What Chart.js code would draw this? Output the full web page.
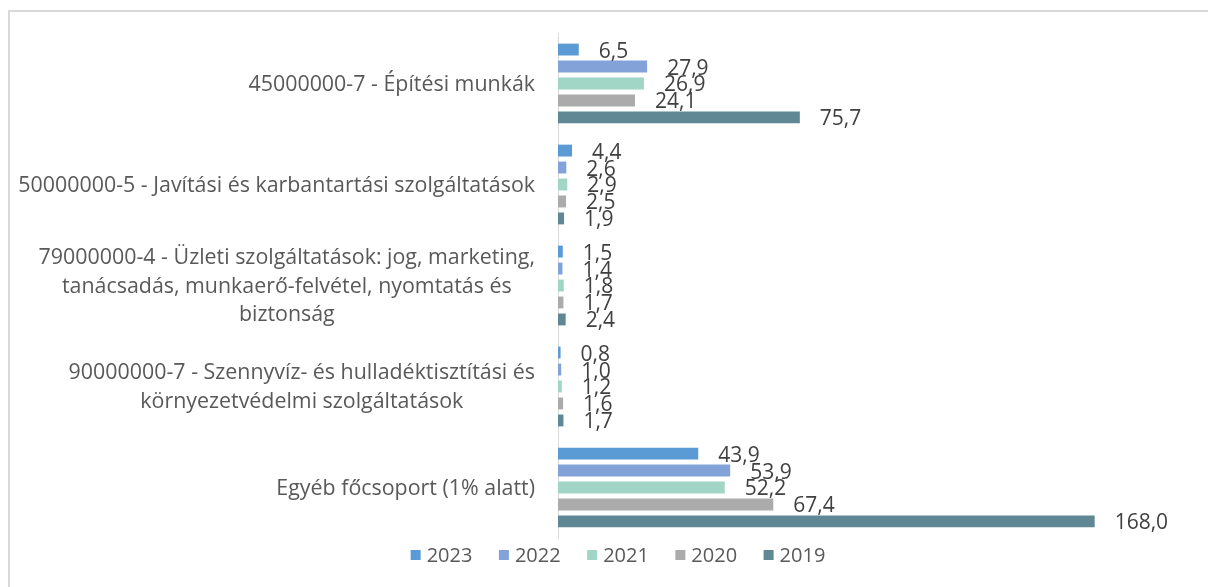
<!DOCTYPE html>
<html lang="hu">

<head>
  <meta charset="utf-8">
  <style>
    body {
      margin: 0;
      overflow: hidden;
      background: #ffffff;
    }

    .frame {
      position: absolute;
      left: 8px;
      top: 10px;
      width: 1300px;
      height: 700px;
      border: 2px solid #d9d9d9;
    }

    .chart-box {
      position: absolute;
      left: 0;
      top: 0;
      width: 1208px;
      height: 587px;
    }
  </style>
</head>

<body>
  <div class="frame"></div>
  <div class="chart-box">
    <canvas id="cpvChart"></canvas>
  </div>

  <script src="https://cdn.jsdelivr.net/npm/chart.js"></script>
  <script>
    // CPV főcsoportok (sortördeléssel, ahogy a tengelyen megjelennek)
    const categories = [
      ['45000000-7 - Építési munkák'],
      ['50000000-5 - Javítási és karbantartási szolgáltatások'],
      ['79000000-4 - Üzleti szolgáltatások: jog, marketing,', 'tanácsadás, munkaerő-felvétel, nyomtatás és', 'biztonság'],
      ['90000000-7 - Szennyvíz- és hulladéktisztítási és', 'környezetvédelmi szolgáltatások'],
      ['Egyéb főcsoport (1% alatt)']
    ];

    const years = ['2023', '2022', '2021', '2020', '2019'];

    const values2023 = [6.5, 4.4, 1.5, 0.8, 43.9];
    const values2022 = [27.9, 2.6, 1.4, 1.0, 53.9];
    const values2021 = [26.9, 2.9, 1.8, 1.2, 52.2];
    const values2020 = [24.1, 2.5, 1.7, 1.6, 67.4];
    const values2019 = [75.7, 1.9, 2.4, 1.7, 168.0];

    const COLORS = ['#5b9bd5', '#83a2d8', '#a1d5c6', '#ababab', '#5f8794'];

    const FONT = '"Open Sans", "Liberation Sans", sans-serif';

    /* ------------------------------------------------ */

    // kategórianevek a tengely bal oldalán, több sor esetén középre zárva
    const categoryLabels = {
      id: 'categoryLabels',
      afterDraw(chart) {
        const ctx = chart.ctx;
        const yScale = chart.scales.y;
        const right = chart.chartArea.left - 23;
        const lineH = 28.5;
        ctx.save();
        ctx.font = '21.4px ' + FONT;
        ctx.fillStyle = '#595959';
        ctx.textAlign = 'center';
        ctx.textBaseline = 'middle';
        categories.forEach((lines, i) => {
          const w = Math.max(...lines.map(l => ctx.measureText(l).width));
          const cx = right - w / 2;
          const y0 = yScale.getPixelForValue(i) - (lines.length - 1) * lineH / 2;
          lines.forEach((l, k) => ctx.fillText(l, cx, y0 + k * lineH + 1));
        });
        ctx.restore();
      }
    };

    // értékcímkék a sávok végén, tizedesvesszővel
    const valueLabels = {
      id: 'valueLabels',
      afterDatasetsDraw(chart) {
        const ctx = chart.ctx;
        ctx.save();
        ctx.font = '21px ' + FONT;
        ctx.fillStyle = '#404040';
        ctx.textAlign = 'left';
        ctx.textBaseline = 'middle';
        chart.data.datasets.forEach((ds, di) => {
          chart.getDatasetMeta(di).data.forEach((bar, i) => {
            const txt = ds.data[i].toFixed(1).replace('.', ',');
            ctx.fillText(txt, bar.x + 20, bar.y + 2);
          });
        });
        ctx.restore();
      }
    };

    // jelmagyarázat a diagram alatt
    const bottomLegend = {
      id: 'bottomLegend',
      afterDraw(chart) {
        const ctx = chart.ctx;
        const box = 10, gap = 6, spacing = 26.5;
        const cy = 555;
        ctx.save();
        ctx.font = '20px ' + FONT;
        ctx.textBaseline = 'middle';
        ctx.textAlign = 'left';
        const items = chart.data.datasets.map(ds => ({
          text: ds.label,
          color: ds.backgroundColor,
          w: box + gap + ctx.measureText(ds.label).width
        }));
        const total = items.reduce((s, it) => s + it.w, 0) + spacing * (items.length - 1);
        let x = 618 - total / 2;
        items.forEach(it => {
          ctx.fillStyle = it.color;
          ctx.fillRect(x, cy - box / 2, box, box);
          ctx.fillStyle = '#595959';
          ctx.fillText(it.text, x + box + gap, cy + 1);
          x += it.w + spacing;
        });
        ctx.restore();
      }
    };

    /* ------------------------------------------------ */

    const seriesValues = [values2023, values2022, values2021, values2020, values2019];

    const datasets = years.map((year, i) => ({
      label: year,
      data: seriesValues[i],
      backgroundColor: COLORS[i],
      borderWidth: 0,
      categoryPercentage: 0.84,
      barPercentage: 0.7
    }));

    new Chart(document.getElementById('cpvChart'), {
      type: 'bar',
      data: {
        labels: categories,
        datasets: datasets
      },
      options: {
        indexAxis: 'y',
        responsive: true,
        maintainAspectRatio: false,
        animation: false,
        layout: {
          padding: { left: 0, right: 75, top: 33, bottom: 49 }
        },
        scales: {
          x: {
            display: false,
            min: 0,
            max: 180
          },
          y: {
            afterFit(scale) {
              scale.width = 558;
            },
            ticks: { display: false },
            grid: { drawOnChartArea: false, drawTicks: false },
            border: { display: true, color: '#d9d9d9', width: 1 }
          }
        },
        plugins: {
          legend: { display: false },
          tooltip: { enabled: false }
        }
      },
      plugins: [categoryLabels, valueLabels, bottomLegend]
    });
  </script>
</body>

</html>
